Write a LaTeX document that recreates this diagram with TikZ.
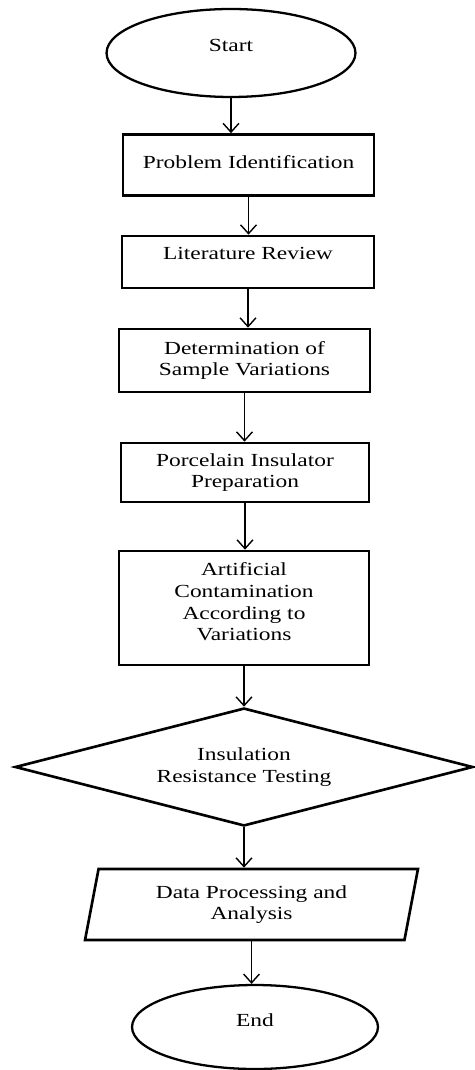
\documentclass[tikz,border=0pt]{standalone}
\usepackage{fontspec}
\setmainfont[FakeStretch=1.27]{Liberation Serif}
\usetikzlibrary{shapes.geometric}
\usetikzlibrary{arrows.meta}
\usetikzlibrary{calc}

\begin{document}
\begin{tikzpicture}[x=0.02cm, y=-0.02cm,
  every node/.style={font=\fontsize{10.5}{12.3}\selectfont, align=center, inner sep=0pt},
  terminal/.style={draw, ellipse, line width=1.3pt},
  process/.style={draw, rectangle, line width=1.5pt},
  decision/.style={draw, diamond, aspect=3.88, line width=1.5pt},
  inout/.style={draw, trapezium, trapezium left angle=70.6, trapezium right angle=109.4,
    trapezium stretches body, line width=1.5pt},
  flow/.style={line width=0.8pt, -{Straight Barb[length=5pt, width=9pt]}}]
\useasboundingbox (0,0) rectangle (474,1070);

\node[terminal, minimum width=4.98cm, minimum height=1.76cm, text depth=9pt] (start) at (231,53) {Start};
\node[process, minimum width=5.02cm, minimum height=1.22cm, text depth=3.4pt] (probid) at (248.5,165) {Problem Identification};
\node[process, minimum width=5.04cm, minimum height=1.04cm, text depth=10pt] (litrev) at (248,262) {Literature Review};
\node[process, minimum width=5.02cm, minimum height=1.26cm] (detvar) at (244.5,360.5) {Determination of\\Sample Variations};
\node[process, minimum width=4.96cm, minimum height=1.18cm] (prep) at (245,472.5) {Porcelain Insulator\\Preparation};
\node[process, minimum width=5cm, minimum height=2.28cm, text depth=7pt] (contam) at (244,608) {Artificial\\Contamination\\According to\\Variations};
\node[decision, minimum width=9.16cm, minimum height=2.36cm] (testing) at (244,767) {Insulation\\Resistance Testing};
\node[inout, minimum width=6.66cm, minimum height=1.42cm] (analysis) at (251.5,904.5) {Data Processing and\\Analysis};
\node[terminal, minimum width=4.92cm, minimum height=1.68cm, text depth=8pt] (finish) at (255,1027) {End};

\draw[flow] (start.south) -- (start.south |- probid.north);
\draw[flow] (probid.south) -- (probid.south |- litrev.north);
\draw[flow] (litrev.south) -- (litrev.south |- detvar.north);
\draw[flow] (detvar.south) -- (detvar.south |- prep.north);
\draw[flow] (prep.south) -- (prep.south |- contam.north);
\draw[flow] (contam.south) -- (contam.south |- testing.north);
\draw[flow] (testing.south) -- (testing.south |- analysis.north);
\draw[flow] (analysis.south) -- (analysis.south |- finish.north);
\end{tikzpicture}
\end{document}
